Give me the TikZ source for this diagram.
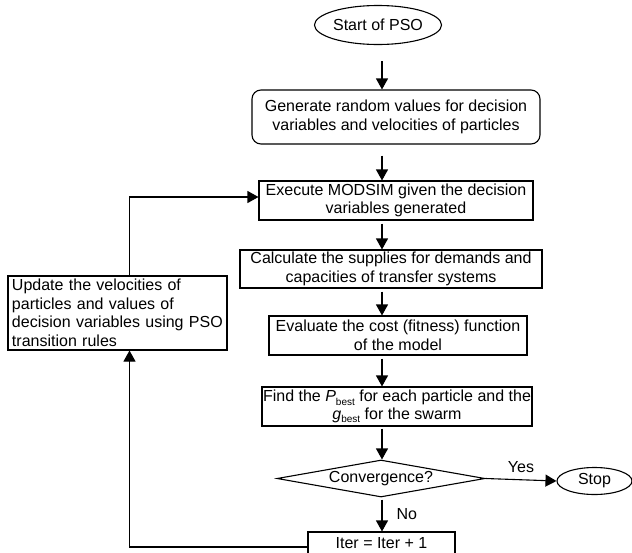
\documentclass[tikz,border=0pt]{standalone}
\usepackage{fontspec}
\setmainfont{Liberation Sans}
\usetikzlibrary{shapes.geometric,arrows.meta}
\begin{document}
\begin{tikzpicture}[x=1pt,y=-1pt,
  every node/.style={font=\fontsize{16}{18.5}\selectfont},
  box/.style={draw,line width=1.1pt,rectangle,inner sep=0pt,align=center},
  oval/.style={draw,line width=1.1pt,ellipse,inner sep=0pt},
  arr/.style={line width=1.1pt,-{Triangle[length=11pt,width=12pt]}},
  lbl/.style={inner sep=0pt}]
\useasboundingbox (0,0) rectangle (632,552);
\clip (0,0) rectangle (632,552);
\coordinate (ax) at (382,0);
\coordinate (fb) at (129.5,0);
\node[oval,minimum width=110pt,minimum height=39pt] (start) at (378,25) {Start of PSO};
\node[box,rounded corners=9pt,minimum width=288pt,minimum height=54pt] (gen) at (396,117)
  {Generate random values for decision\\variables and velocities of particles};
\node[box,minimum width=274pt,minimum height=39pt] (exe) at (396,200.5)
  {Execute MODSIM given the decision\\variables generated};
\node[box,minimum width=302pt,minimum height=38pt] (calc) at (391,269)
  {Calculate the supplies for demands and\\capacities of transfer systems};
\node[box,minimum width=258pt,minimum height=39pt] (eval) at (398,335.5)
  {Evaluate the cost (fitness) function\\of the model};
\node[box,minimum width=270pt,minimum height=39pt] (find) at (397,406.5)
  {Find the \textit{P}\raisebox{-3.5pt}{\fontsize{10}{10}\selectfont best} for each particle and the\\[-1pt]\textit{g}\raisebox{-3.5pt}{\fontsize{10}{10}\selectfont best} for the swarm};
\node[draw,line width=1.1pt,diamond,shape aspect=5.6,inner sep=0pt,minimum width=208pt,minimum height=37pt] (conv) at (381,478.5) {Convergence?};
\node[oval,minimum width=75pt,minimum height=27pt] (stop) at (594.5,481) {Stop};
\node[box,minimum width=147pt,minimum height=23pt] (iter) at (381.5,543.5) {Iter = Iter + 1};
\node[box,align=left,minimum width=219pt,minimum height=74pt,text width=211pt] (upd) at (117.5,313)
  {Update the velocities of\\particles and values of\\decision variables using PSO\\transition rules};
% connectors
\draw[arr,shorten <=16pt] (start.south -| ax) -- (gen.north -| ax);
\draw[arr,shorten <=11pt] (gen.south -| ax) -- (exe.north -| ax);
\draw[arr,shorten <=3pt] (exe.south -| ax) -- (calc.north -| ax);
\draw[arr,shorten <=3pt] (calc.south -| ax) -- (eval.north -| ax);
\draw[arr,shorten <=3pt] (eval.south -| ax) -- (find.north -| ax);
\draw[arr,shorten <=2pt] (find.south -| ax) -- (conv.north -| ax);
\draw[arr] (conv.east) -- (stop.west) node[lbl,pos=0.5,above=7pt] {Yes};
\draw[arr,shorten <=2pt] (conv.south -| ax) -- node[lbl,right=14pt] {No} (iter.north -| ax);
\draw[arr] (iter.west |- 0,547) -| (fb |- upd.south);
\draw[arr] (upd.north -| fb) |- (exe.west |- 0,197);
\end{tikzpicture}
\end{document}
